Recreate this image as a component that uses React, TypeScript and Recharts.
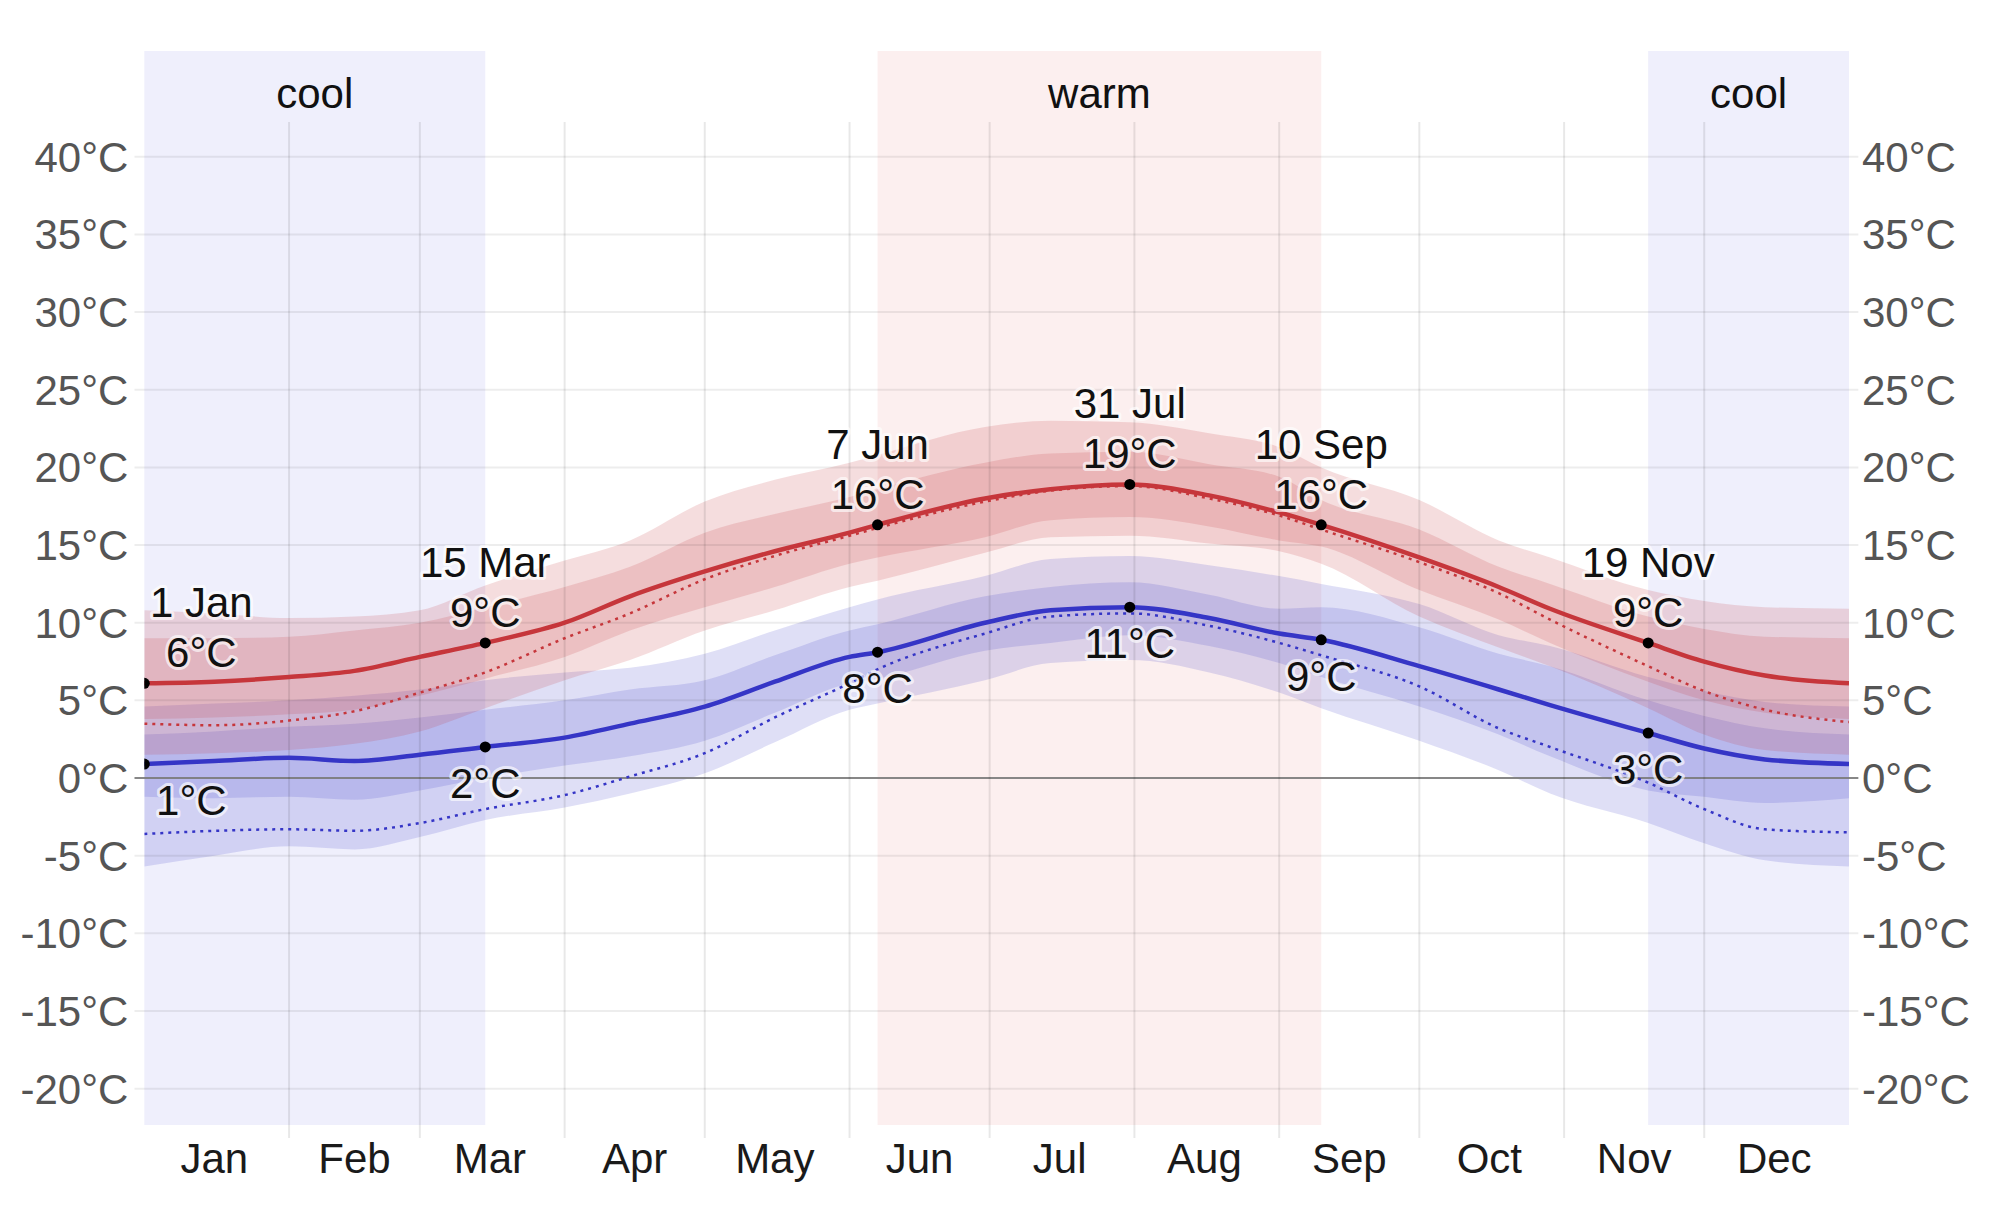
import React from "react";
import {
  ComposedChart,
  Area,
  Line,
  Scatter,
  XAxis,
  YAxis,
  ReferenceArea,
  ReferenceLine,
} from "recharts";

const days = [0, 15, 31, 45, 59, 73, 90, 104, 120, 135, 151, 157, 180, 194, 211, 228, 243, 252, 273, 290, 301, 322, 334, 347, 365];

// daily high: average, percentile bands and perceived (dotted)
const hiAvg = [6.1, 6.2, 6.5, 6.9, 7.8, 8.7, 10.0, 11.7, 13.3, 14.6, 15.8, 16.3, 18.0, 18.6, 18.9, 18.2, 17.1, 16.3, 14.2, 12.3, 10.9, 8.7, 7.5, 6.6, 6.1];
const hiP75 = [9.0, 9.0, 9.1, 9.5, 10.0, 11.0, 12.3, 13.6, 15.8, 17.0, 18.1, 18.6, 20.3, 20.9, 21.0, 20.2, 19.4, 17.9, 16.0, 13.6, 12.5, 10.4, 9.6, 9.1, 9.0];
const hiP90 = [10.8, 10.6, 10.3, 10.4, 10.8, 12.4, 14.0, 15.3, 17.8, 19.2, 20.3, 20.8, 22.6, 23.0, 22.9, 22.2, 21.3, 20.0, 17.9, 15.3, 14.2, 12.1, 11.4, 11.0, 10.9];
const hiP25 = [3.8, 3.9, 4.1, 4.4, 5.3, 6.4, 7.8, 9.5, 11.0, 12.3, 13.8, 14.2, 15.5, 16.6, 16.8, 16.2, 15.3, 14.9, 12.1, 10.2, 8.7, 6.2, 5.0, 4.2, 3.8];
const hiP10 = [1.5, 1.6, 1.8, 2.2, 3.0, 4.5, 6.3, 7.6, 9.5, 10.8, 12.3, 12.7, 14.5, 15.5, 15.6, 15.1, 14.6, 13.8, 10.4, 8.4, 7.2, 4.5, 2.8, 1.8, 1.5];
const hiFeel = [3.5, 3.4, 3.7, 4.3, 5.5, 6.8, 9.0, 10.6, 12.8, 14.3, 15.6, 16.1, 17.8, 18.5, 18.8, 18.0, 16.9, 16.0, 13.9, 11.9, 10.2, 7.2, 5.6, 4.4, 3.6];

// daily low
const loAvg = [0.9, 1.1, 1.3, 1.1, 1.5, 2.0, 2.6, 3.5, 4.6, 6.2, 7.8, 8.1, 10.0, 10.8, 11.0, 10.3, 9.3, 8.9, 7.2, 5.7, 4.7, 2.9, 1.9, 1.2, 0.9];
const loP75 = [2.8, 3.0, 3.3, 3.5, 3.9, 4.4, 5.0, 5.7, 6.3, 7.9, 9.5, 9.9, 11.7, 12.3, 12.6, 11.8, 10.9, 11.0, 9.7, 8.0, 7.2, 5.0, 4.0, 3.2, 2.8];
const loP90 = [4.6, 4.8, 5.0, 5.3, 5.7, 6.3, 6.8, 7.1, 8.0, 9.5, 11.0, 11.5, 13.0, 14.1, 14.3, 13.7, 13.0, 12.5, 11.2, 9.2, 8.5, 6.5, 5.6, 4.9, 4.6];
const loP25 = [-1.2, -1.3, -1.2, -1.4, -0.8, 0.0, 0.8, 1.4, 2.4, 4.2, 6.1, 6.4, 8.2, 8.7, 9.2, 8.5, 7.4, 6.5, 4.6, 2.8, 1.4, -0.8, -1.2, -1.6, -1.3];
const loP10 = [-5.7, -5.0, -4.4, -4.6, -3.8, -2.7, -1.9, -1.0, 0.3, 2.3, 4.4, 4.8, 6.3, 7.4, 7.6, 6.8, 5.5, 4.5, 2.4, 0.5, -1.0, -2.9, -4.2, -5.3, -5.7];
const loFeel = [-3.6, -3.4, -3.3, -3.4, -2.9, -2.0, -1.1, 0.1, 1.6, 3.9, 6.1, 7.0, 9.3, 10.4, 10.6, 9.8, 8.7, 7.9, 5.9, 3.2, 2.0, -0.3, -2.0, -3.3, -3.5];

// annotated days
const markDays = [0, 73, 157, 211, 252, 322];
const markDates = ["1 Jan", "15 Mar", "7 Jun", "31 Jul", "10 Sep", "19 Nov"];
const markHi = ["6°C", "9°C", "16°C", "19°C", "16°C", "9°C"];
const markLo = ["1°C", "2°C", "8°C", "11°C", "9°C", "3°C"];

// seasons
const seasons = [
  { name: "cool", from: 0, to: 73, kind: "cool" },
  { name: "warm", from: 157, to: 252, kind: "warm" },
  { name: "cool", from: 322, to: 365, kind: "cool" },
];

const monthStarts = [31, 59, 90, 120, 151, 181, 212, 243, 273, 304, 334];
const monthMids = [15, 45, 74, 105, 135, 166, 196, 227, 258, 288, 319, 349];
const monthNames = ["Jan", "Feb", "Mar", "Apr", "May", "Jun", "Jul", "Aug", "Sep", "Oct", "Nov", "Dec"];
const yTicks = [-20, -15, -10, -5, 0, 5, 10, 15, 20, 25, 30, 35, 40];

const Y_MIN = -22.34;
const Y_MAX = 46.81;

const RED = "#c6363b";
const BLUE = "#3535c6";
const FONT = '"Liberation Sans", Arial, Helvetica, sans-serif';

const rows = days.map((d, i) => ({
  day: d,
  hiOuter: [hiP10[i], hiP90[i]],
  hiInner: [hiP25[i], hiP75[i]],
  loOuter: [loP10[i], loP90[i]],
  loInner: [loP25[i], loP75[i]],
  hiAvg: hiAvg[i],
  hiFeel: hiFeel[i],
  loAvg: loAvg[i],
  loFeel: loFeel[i],
}));

const hiMarks = markDays.map((d, i) => ({
  day: d,
  value: hiAvg[days.indexOf(d)],
  date: markDates[i],
  temp: markHi[i],
}));
const loMarks = markDays.map((d, i) => ({
  day: d,
  value: loAvg[days.indexOf(d)],
  temp: markLo[i],
}));

const halo = {
  stroke: "rgba(255,255,255,0.65)",
  strokeWidth: 6,
  strokeLinejoin: "round" as const,
  paintOrder: "stroke" as const,
};

const HiMark = (props: any) => {
  const { cx, cy, payload } = props;
  const dx = payload.day === 0 ? 57 : 0;
  return (
    <g>
      <circle cx={cx} cy={cy} r={5.5} fill="#000" />
      <text x={cx + dx} y={cy - 66} textAnchor="middle" fontSize={42} fill="#111" {...halo}>
        {payload.date}
      </text>
      <text x={cx + dx} y={cy - 16} textAnchor="middle" fontSize={42} fill="#111" {...halo}>
        {payload.temp}
      </text>
    </g>
  );
};

const LoMark = (props: any) => {
  const { cx, cy, payload } = props;
  const dx = payload.day === 0 ? 47 : 0;
  return (
    <g>
      <circle cx={cx} cy={cy} r={5.5} fill="#000" />
      <text x={cx + dx} y={cy + 51} textAnchor="middle" fontSize={42} fill="#111" {...halo}>
        {payload.temp}
      </text>
    </g>
  );
};

const SeasonLabel = (props: any) => {
  const vb = props.viewBox || {};
  return (
    <text x={vb.x + vb.width / 2} y={vb.y + 57} textAnchor="middle" fontSize={42} fill="#111">
      {props.text}
    </text>
  );
};

export default function App() {
  return (
    <div style={{ position: "absolute", left: 0, top: 0, width: 1999, height: 1218, background: "#fff", fontFamily: FONT }}>
      <ComposedChart width={1999} height={1218} data={rows} margin={{ top: 51, right: 0, bottom: 0, left: 0 }}>
        <XAxis
          dataKey="day"
          type="number"
          domain={[0, 365]}
          ticks={monthMids}
          interval={0}
          tickFormatter={(v: number) => monthNames[monthMids.indexOf(v)]}
          axisLine={false}
          tickLine={false}
          tickSize={0}
          tickMargin={18}
          height={93}
          allowDataOverflow
          tick={{ fill: "#1a1a1a", fontSize: 42, fontFamily: FONT }}
        />
        <YAxis
          yAxisId="left"
          domain={[Y_MIN, Y_MAX]}
          ticks={yTicks}
          interval={0}
          width={144.3}
          axisLine={false}
          tickLine={false}
          tickSize={0}
          tickMargin={16}
          allowDataOverflow
          tickFormatter={(v: number) => `${v}°C`}
          tick={{ fill: "#555", fontSize: 42, fontFamily: FONT }}
        />
        <YAxis
          yAxisId="right"
          orientation="right"
          domain={[Y_MIN, Y_MAX]}
          ticks={yTicks}
          interval={0}
          width={150}
          axisLine={false}
          tickLine={false}
          tickSize={0}
          tickMargin={13}
          allowDataOverflow
          tickFormatter={(v: number) => `${v}°C`}
          tick={{ fill: "#555", fontSize: 42, fontFamily: FONT }}
        />

        {seasons.map((s, i) => (
          <ReferenceArea
            key={`season-${i}`}
            yAxisId="left"
            x1={s.from}
            x2={s.to}
            y1={Y_MIN}
            y2={Y_MAX}
            fill={s.kind === "cool" ? "#7070e8" : "#e66e6e"}
            fillOpacity={0.11}
            stroke="none"
            ifOverflow="visible"
            label={<SeasonLabel text={s.name} />}
          />
        ))}

        {yTicks.map((t) => (
          <ReferenceLine
            key={`h-${t}`}
            yAxisId="left"
            segment={[{ x: -2.1, y: t }, { x: 367, y: t }]}
            stroke={t === 0 ? "#7a7a7a" : "#000"}
            strokeOpacity={t === 0 ? 0.9 : 0.07}
            strokeWidth={2}
            ifOverflow="visible"
          />
        ))}
        {monthStarts.map((m) => (
          <ReferenceLine
            key={`v-${m}`}
            yAxisId="left"
            segment={[{ x: m, y: -23.18 }, { x: m, y: 42.24 }]}
            stroke="#000"
            strokeOpacity={0.09}
            strokeWidth={2}
            ifOverflow="visible"
          />
        ))}

        <Area yAxisId="left" type="monotone" dataKey="loOuter" stroke="none" fill={BLUE} fillOpacity={0.16} isAnimationActive={false} />
        <Area yAxisId="left" type="monotone" dataKey="loInner" stroke="none" fill={BLUE} fillOpacity={0.16} isAnimationActive={false} />
        <Area yAxisId="left" type="monotone" dataKey="hiOuter" stroke="none" fill={RED} fillOpacity={0.17} isAnimationActive={false} />
        <Area yAxisId="left" type="monotone" dataKey="hiInner" stroke="none" fill={RED} fillOpacity={0.17} isAnimationActive={false} />

        <Line yAxisId="left" type="monotone" dataKey="hiFeel" stroke={RED} strokeWidth={2.5} strokeDasharray="3 5" dot={false} isAnimationActive={false} />
        <Line yAxisId="left" type="monotone" dataKey="loFeel" stroke={BLUE} strokeWidth={2.5} strokeDasharray="3 5" dot={false} isAnimationActive={false} />
        <Line yAxisId="left" type="monotone" dataKey="hiAvg" stroke={RED} strokeWidth={4.5} dot={false} isAnimationActive={false} />
        <Line yAxisId="left" type="monotone" dataKey="loAvg" stroke={BLUE} strokeWidth={4.5} dot={false} isAnimationActive={false} />

        <Scatter yAxisId="left" data={hiMarks} dataKey="value" shape={<HiMark />} isAnimationActive={false} />
        <Scatter yAxisId="left" data={loMarks} dataKey="value" shape={<LoMark />} isAnimationActive={false} />
      </ComposedChart>
    </div>
  );
}
